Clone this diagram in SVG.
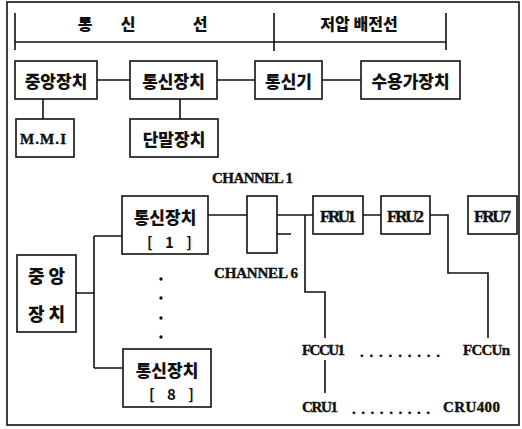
<svg xmlns="http://www.w3.org/2000/svg" width="522" height="429" viewBox="0 0 522 429">
<style>
  .box { fill: #fff; stroke: #111; stroke-width: 1.6; }
  .ln { fill: none; stroke: #111; stroke-width: 1.6; }
  .ko { font-family: "Noto Sans CJK KR", "Noto Sans", sans-serif; font-weight: 900; fill: #111; dominant-baseline: central; text-anchor: middle; }
  .br { font-family: "Noto Sans CJK KR", "Noto Sans", sans-serif; font-weight: bold; fill: #111; dominant-baseline: central; }
  .en { font-family: "Liberation Serif", "DejaVu Serif", serif; font-weight: bold; fill: #111; dominant-baseline: central; stroke: #111; stroke-width: 0.4; }
</style>
<rect x="0" y="0" width="522" height="429" fill="#fff"/>
<rect x="7" y="2" width="512" height="423" class="ln"/>

<g id="header">
  <path class="ln" d="M15 13V50 M274 13V51 M446 13V50 M15 42H446"/>
  <text class="ko" x="85" y="23" font-size="16">통</text>
  <text class="ko" x="128" y="23" font-size="16">신</text>
  <text class="ko" x="200" y="23" font-size="16">선</text>
  <text class="ko" x="359" y="23" font-size="16">저압 배전선</text>
</g>

<g id="connectors">
  <path class="ln" d="M97 80H130 M217 80H255 M322 80H361 M43 99V119 M180 99V119"/>
  <path class="ln" d="M208 215H247 M277 215H313 M277 234H291 M305 215V292H325V338 M363 215H381 M430 215H448V273H488V338 M325 360V393"/>
  <path class="ln" d="M76 293H94 M94 236V368 M94 236H122 M94 368H123"/>
</g>

<g id="n-central"><rect class="box" x="15" y="61" width="82" height="38"/><text class="ko" x="56" y="80" font-size="17">중앙장치</text></g>
<g id="n-comm"><rect class="box" x="130" y="61" width="87" height="38"/><text class="ko" x="173.5" y="80" font-size="17">통신장치</text></g>
<g id="n-commdev"><rect class="box" x="255" y="61" width="67" height="38"/><text class="ko" x="288.5" y="80" font-size="17">통신기</text></g>
<g id="n-consumer"><rect class="box" x="361" y="61" width="99" height="38"/><text class="ko" x="410.5" y="80" font-size="17">수용가장치</text></g>
<g id="n-mmi"><rect class="box" x="16" y="119" width="58" height="38"/><text class="en" x="20" y="139" font-size="15" textLength="46" font-family="Liberation Mono, monospace">M.M.I</text></g>
<g id="n-terminal"><rect class="box" x="130" y="119" width="88" height="38"/><text class="ko" x="174" y="138" font-size="17">단말장치</text></g>

<g id="n-central2"><rect class="box" x="17" y="255" width="59" height="77"/>
  <text class="ko" x="46.5" y="275" font-size="18">중 앙</text>
  <text class="ko" x="46.5" y="313" font-size="18">장 치</text></g>

<g id="n-comm1"><rect class="box" x="122" y="196" width="86" height="58"/>
  <text class="ko" x="165" y="216" font-size="17">통신장치</text>
  <text class="br" x="147" y="241" font-size="15" textLength="45">[ 1 ]</text></g>
<g id="n-comm8"><rect class="box" x="123" y="349" width="88" height="58"/>
  <text class="ko" x="167" y="369" font-size="17">통신장치</text>
  <text class="br" x="149" y="393" font-size="15" textLength="45">[ 8 ]</text></g>

<g id="dots-v" fill="#111">
  <circle cx="161" cy="279" r="1.7"/><circle cx="161" cy="298" r="1.7"/>
  <circle cx="161" cy="318" r="1.7"/><circle cx="161" cy="337" r="1.7"/>
</g>

<g id="n-channel"><rect class="box" x="247" y="196" width="30" height="57"/></g>
<text class="en" x="212" y="178" font-size="15" textLength="81">CHANNEL 1</text>
<text class="en" x="214" y="273" font-size="15" textLength="84">CHANNEL 6</text>

<g id="n-fru1"><rect class="box" x="313" y="196" width="50" height="38"/><text class="en" x="320" y="216" font-size="17" textLength="36">FRU1</text></g>
<g id="n-fru2"><rect class="box" x="381" y="196" width="49" height="38"/><text class="en" x="387" y="216" font-size="17" textLength="37">FRU2</text></g>
<g id="n-fru7"><rect class="box" x="468" y="196" width="49" height="38"/><text class="en" x="474" y="216" font-size="17" textLength="37">FRU7</text></g>

<g id="n-fccu1"><text class="en" x="302" y="350" font-size="15" textLength="43">FCCU1</text></g>
<text class="en" x="360" y="352" font-size="15" textLength="80">.........</text>
<g id="n-fccun"><text class="en" x="463" y="350" font-size="15" textLength="47">FCCUn</text></g>
<g id="n-cru1"><text class="en" x="302" y="407" font-size="15" textLength="36">CRU1</text></g>
<text class="en" x="352" y="409" font-size="15" textLength="78">.........</text>
<g id="n-cru400"><text class="en" x="443" y="407" font-size="15" textLength="57">CRU400</text></g>
</svg>
